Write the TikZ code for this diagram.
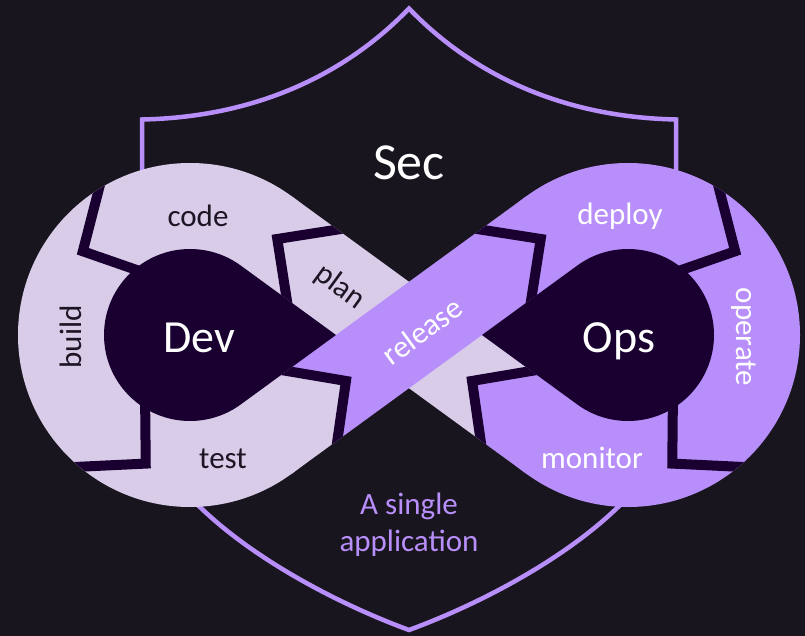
\documentclass[tikz,border=0pt]{standalone}
\usepackage{fontspec}
\setmainfont{Carlito}
\usepackage{tikz}
\definecolor{night}{RGB}{25,21,31}
\definecolor{lilac}{RGB}{216,204,232}
\definecolor{amethyst}{RGB}{184,143,250}
\definecolor{inkdrop}{RGB}{26,0,48}
\definecolor{inktext}{RGB}{28,22,36}
\def\tilt{36.09}
\def\drop{\fill[inkdrop] (0,0) circle (86) (-53.91:86) -- (146,0) -- (53.91:86) -- cycle;}
\def\ringcuts{\clip (0,0) circle (172);
  \draw[cut] (122:70) -- (142:136) -- (122:172);
  \draw[cut] (230:70) -- (251:136) -- (230:172);}
\def\band#1#2{\fill[#1] (-177,-43) -- (-120,-43) -- (-78,0) -- (-120,43) -- (-177,43) -- cycle;
  \fill[#2] (-120,-43) -- (-78,0) -- (-120,43) -- (177,43) -- (177,-43) -- cycle;}
\def\bandcuts{\clip (-177,-43) rectangle (177,43);
  \draw[cut] (-120,-43) -- (-78,0) -- (-120,43);
  \draw[cut] (120,-43) -- (163,0) -- (120,43);}
\tikzstyle{cut}=[draw=inkdrop,line width=10pt,line join=miter,shorten >=-12pt,shorten <=-12pt]
\tikzstyle{shield}=[draw=amethyst,line width=4.5pt,line join=miter]
\tikzstyle{small}=[font=\fontsize{31}{37}\selectfont,anchor=base]
\tikzstyle{big}=[font=\fontsize{46}{50}\selectfont,text=white,anchor=base]
\tikzstyle{onlilac}=[small,text=inktext]
\tikzstyle{onamethyst}=[small,text=white]

\begin{document}
\begin{tikzpicture}[x=1pt,y=1pt]
  \fill[night] (0,0) rectangle (805,-636);
  \useasboundingbox (0,0) rectangle (805,-636);
  \coordinate (dev) at (190,-335);
  \coordinate (ops) at (628,-335);
  \coordinate (mid) at (409,-335);
  % shield
  \draw[shield] (142,-300) -- (142,-119.5) .. controls (262,-117) and (350,-70) .. (409,-8.5)
    .. controls (468,-70) and (556,-117) .. (676,-119.5) -- (676,-400)
    .. controls (673,-500) and (518,-590) .. (409,-630)
    .. controls (300,-590) and (145,-500) .. (142,-400) -- cycle;
  % loops and bands
  \fill[lilac] (dev) circle (172);
  \fill[amethyst] (ops) circle (172);
  \begin{scope}[shift={(mid)},xscale=-1,rotate=\tilt] \band{amethyst}{lilac} \end{scope}
  \begin{scope}[shift={(mid)},rotate=\tilt] \band{lilac}{amethyst} \end{scope}
  \begin{scope}[shift={(dev)}] \drop \end{scope}
  \begin{scope}[shift={(ops)},xscale=-1] \drop \end{scope}
  % cuts between stages
  \begin{scope}[shift={(dev)}] \ringcuts \end{scope}
  \begin{scope}[shift={(ops)},xscale=-1] \ringcuts \end{scope}
  \begin{scope}[shift={(mid)},rotate=\tilt] \bandcuts \end{scope}
  \begin{scope}[shift={(mid)},xscale=-1,rotate=\tilt] \bandcuts \end{scope}
  % labels
  \node[big,font=\fontsize{52}{56}\selectfont] (sec) at (409,-180) {Sec};
  \node[big] (devlbl) at (199,-352) {Dev};
  \node[big] (opslbl) at (619,-352) {Ops};
  \node[onlilac] (code) at (198,-226) {code};
  \node[onlilac,rotate=90] (build) at (81,-337) {build};
  \node[onlilac] (test) at (223,-468) {test};
  \node[onlilac,rotate=-\tilt,anchor=center] (plan) at (340,-287) {plan};
  \node[onamethyst,rotate=\tilt,anchor=center] (release) at (422,-331) {release};
  \node[onamethyst] (deploy) at (620,-225) {deploy};
  \node[onamethyst,rotate=-90] (operate) at (736,-337) {operate};
  \node[onamethyst] (monitor) at (592,-468) {monitor};
  \node[small,text=amethyst,align=center,anchor=center] (app) at (409,-525) {A single\\application};
\end{tikzpicture}
\end{document}
